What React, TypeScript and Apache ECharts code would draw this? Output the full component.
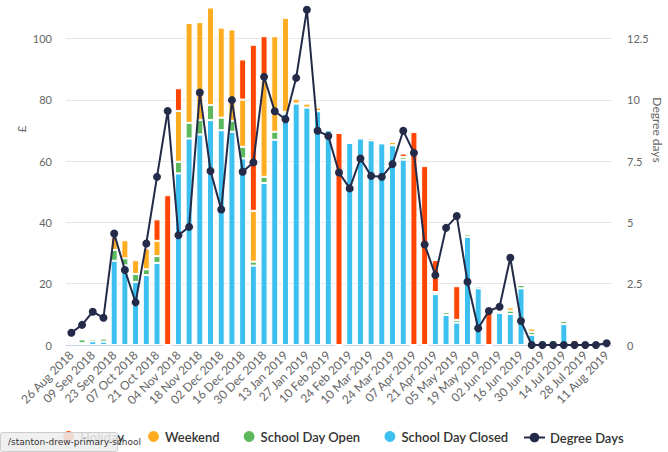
import React, { useEffect, useRef } from "react";
import * as echarts from "echarts";

const weeks = [
  "26 Aug 2018", "02 Sep 2018", "09 Sep 2018", "16 Sep 2018", "23 Sep 2018", "30 Sep 2018",
  "07 Oct 2018", "14 Oct 2018", "21 Oct 2018", "28 Oct 2018", "04 Nov 2018", "11 Nov 2018",
  "18 Nov 2018", "25 Nov 2018", "02 Dec 2018", "09 Dec 2018", "16 Dec 2018", "23 Dec 2018",
  "30 Dec 2018", "06 Jan 2019", "13 Jan 2019", "20 Jan 2019", "27 Jan 2019", "03 Feb 2019",
  "10 Feb 2019", "17 Feb 2019", "24 Feb 2019", "03 Mar 2019", "10 Mar 2019", "17 Mar 2019",
  "24 Mar 2019", "31 Mar 2019", "07 Apr 2019", "14 Apr 2019", "21 Apr 2019", "28 Apr 2019",
  "05 May 2019", "12 May 2019", "19 May 2019", "26 May 2019", "02 Jun 2019", "09 Jun 2019",
  "16 Jun 2019", "23 Jun 2019", "30 Jun 2019", "07 Jul 2019", "14 Jul 2019", "21 Jul 2019",
  "28 Jul 2019", "04 Aug 2019", "11 Aug 2019",
];

const holiday = [
  0.4, 0, 0, 0, 0, 0, 0, 0, 7, 48.9, 7.4, 0, 0, 0, 0, 0, 13.1, 54.2, 14.4, 0,
  0, 0, 0, 0, 0, 69.2, 0, 0, 0, 0, 0, 1.1, 69.5, 58.4, 10.4, 0, 11, 0, 0, 10.7,
  0, 0, 0, 0, 0, 0, 0, 1.6, 1, 0.8, 1.4,
];
const weekend = [
  0.3, 0, 0.5, 0, 4.3, 5.9, 4.5, 6.8, 5, 0, 16.6, 32.6, 32, 32.2, 29.4, 29.8, 15.4, 16.6, 31.5, 31.2,
  30.8, 1.6, 1.3, 1.2, 0, 0, 0, 0, 0.8, 0, 1.1, 0, 0, 0, 0, 0, 0, 0, 0, 0,
  0, 1.1, 0, 1.1, 0, 0, 0, 0, 0, 0, 0,
];
const schoolOpen = [
  0.5, 1.2, 0.8, 1, 3.5, 2.3, 2.6, 1.9, 2.2, 0, 3.8, 5.1, 4.7, 4.9, 4.1, 3.6, 3.8, 1.3, 2, 2.6,
  0.5, 0, 0, 0, 0, 0, 0, 0, 0, 0, 0, 0.9, 0, 0, 0.7, 0.9, 0.9, 0.8, 0.8, 0,
  0, 1.1, 1.1, 1, 1, 1.3, 1, 0, 0, 0, 0,
];
const schoolClosed = [
  0.6, 0.6, 1.2, 1.1, 27.5, 26, 20.6, 22.8, 26.8, 0, 56, 67.4, 68.7, 73.4, 70.1, 69.6, 60.9, 25.9, 52.9, 67,
  75.5, 78.8, 77.5, 76.3, 70.1, 0, 66, 67.4, 66.8, 65.8, 65.2, 60.5, 0, 0, 16.6, 9.8, 7.3, 35.3, 18.5, 0,
  10.5, 10.1, 18.5, 3.3, 0.5, 0.3, 6.8, 0, 0, 0, 0,
];
const degreeDays = [
  0.5, 0.82, 1.36, 1.11, 4.55, 3.06, 1.74, 4.14, 6.86, 9.55, 4.48, 4.82, 10.3, 7.1, 5.53, 9.99, 7.07, 7.45, 10.94, 9.54,
  9.21, 10.9, 13.68, 8.74, 8.53, 7.04, 6.39, 7.61, 6.9, 6.86, 7.38, 8.74, 7.84, 4.1, 2.85, 4.78, 5.26, 2.58, 0.68, 1.39,
  1.56, 3.56, 0.98, 0, 0, 0, 0, 0, 0, 0, 0.07,
];

const FONT = "Lato, 'Open Sans', sans-serif";

export default function App() {
  const ref = useRef<HTMLDivElement>(null);
  useEffect(() => {
    if (!ref.current) return;
    const chart = echarts.init(ref.current, undefined, { renderer: "svg" });
    const barBase = {
      type: "bar",
      stack: "total",
      barWidth: 7,
      yAxisIndex: 0,
      itemStyle: { borderColor: "#ffffff", borderWidth: 1 },
      emphasis: { disabled: true },
    };
    const legendText = { fontFamily: FONT, fontSize: 13, fontWeight: 600, color: "#333333" };
    const axisTitle = { fontSize: 12, fill: "#666666", fontFamily: FONT, textAlign: "center", textVerticalAlign: "middle" };
    chart.setOption({
      animation: false,
      textStyle: { fontFamily: FONT },
      grid: { left: 66, right: 56, top: 8, bottom: 107, containLabel: false, outerBoundsMode: "none" },
      legend: [
        {
          bottom: 3,
          left: 56,
          itemWidth: 13,
          itemHeight: 13,
          itemGap: 22,
          textStyle: legendText,
          data: [
            { name: "Holiday", icon: "circle" },
            { name: "Weekend", icon: "circle" },
            { name: "School Day Open", icon: "circle" },
            { name: "School Day Closed", icon: "circle" },
          ],
        },
        {
          bottom: 3,
          left: 518,
          itemWidth: 21,
          itemHeight: 12,
          textStyle: legendText,
          data: [{ name: "Degree Days" }],
        },
      ],
      xAxis: {
        type: "category",
        data: weeks,
        axisLine: { lineStyle: { color: "#ccd6eb" } },
        axisTick: { show: false },
        axisLabel: { interval: 1, rotate: 45, color: "#666666", fontSize: 12, fontFamily: FONT, margin: 8 },
      },
      yAxis: [
        {
          type: "value",
          min: 0,
          max: 110,
          interval: 20,
          axisLabel: { color: "#666666", fontSize: 11, fontFamily: FONT, showMaxLabel: false, margin: 14 },
          splitLine: { showMaxLine: false, lineStyle: { color: "#e6e6e6" } },
          axisLine: { show: false },
          axisTick: { show: false },
        },
        {
          type: "value",
          min: 0,
          max: 13.75,
          interval: 2.5,
          axisLabel: { color: "#666666", fontSize: 11, fontFamily: FONT, showMaxLabel: false, margin: 15 },
          splitLine: { show: false },
          axisLine: { show: false },
          axisTick: { show: false },
        },
      ],
      series: [
        { ...barBase, name: "School Day Closed", data: schoolClosed, itemStyle: { ...barBase.itemStyle, color: "#3bc0f0" } },
        { ...barBase, name: "School Day Open", data: schoolOpen, itemStyle: { ...barBase.itemStyle, color: "#5cb85c" } },
        { ...barBase, name: "Weekend", data: weekend, itemStyle: { ...barBase.itemStyle, color: "#ffac21" } },
        { ...barBase, name: "Holiday", data: holiday, itemStyle: { ...barBase.itemStyle, color: "#ff4500" } },
        {
          type: "line",
          name: "Degree Days",
          yAxisIndex: 1,
          data: degreeDays,
          symbol: "circle",
          symbolSize: 8,
          showAllSymbol: true,
          lineStyle: { color: "#232b49", width: 2 },
          itemStyle: { color: "#232b49" },
          emphasis: { disabled: true },
          z: 5,
        },
      ],
      graphic: [
        {
          type: "text",
          x: 21,
          y: 129,
          rotation: Math.PI / 2,
          style: { ...axisTitle, text: "£" },
        },
        {
          type: "text",
          x: 657,
          y: 130,
          rotation: -Math.PI / 2,
          style: { ...axisTitle, text: "Degree days" },
        },
        {
          type: "rect",
          left: 0,
          top: 432,
          shape: { width: 117, height: 19, r: 2 },
          style: { fill: "rgba(238,238,238,0.88)", stroke: "#cccccc", lineWidth: 1 },
          z: 100,
        },
        {
          type: "text",
          left: 8,
          top: 437,
          style: { text: "/stanton-drew-primary-school", fontSize: 9, fill: "#333333", fontFamily: "'DejaVu Sans', sans-serif" },
          z: 101,
        },
      ],
    });
    return () => chart.dispose();
  }, []);
  return <div ref={ref} style={{ width: 668, height: 452, position: "absolute", left: 0, top: 0, background: "#ffffff" }} />;
}
